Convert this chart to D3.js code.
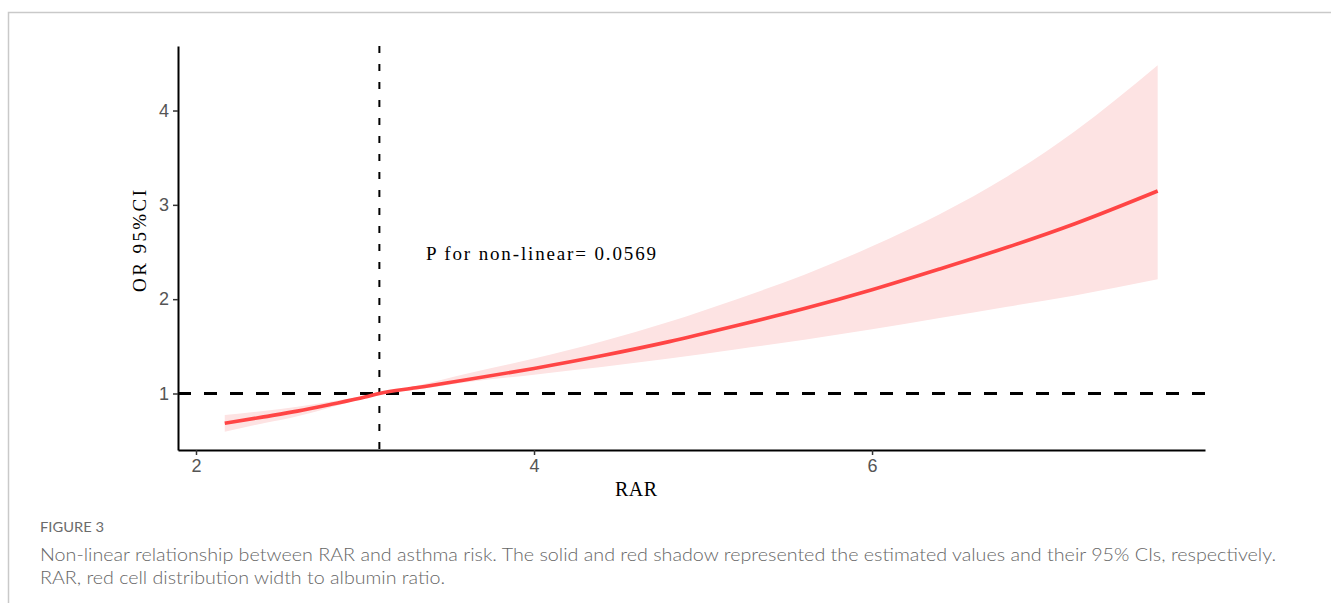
<!DOCTYPE html>
<html>
<head>
<meta charset="utf-8">
<script src="https://cdn.jsdelivr.net/npm/d3@7"></script>
<style>
  html, body { margin: 0; padding: 0; background: #fff; }
  svg { display: block; }
  .tick text { font-size: 18px; font-family: 'Liberation Sans', Arial, sans-serif; fill: #555; }
</style>
</head>
<body>
<svg id="chart" width="1331" height="603"></svg>
<script>
// ---- data ----
const rar      = [2.17, 2.4, 2.6, 2.8, 3.0, 3.085, 3.3, 3.6, 4.0, 4.4, 4.8, 5.2, 5.6, 6.0, 6.4, 6.8, 7.2, 7.69];
const orEst    = [0.684, 0.752, 0.813, 0.885, 0.962, 1.0, 1.06, 1.145, 1.266, 1.40, 1.55, 1.72, 1.90, 2.10, 2.32, 2.55, 2.80, 3.147];
const orUpper  = [0.772, 0.815, 0.86, 0.915, 0.975, 1.003, 1.08, 1.21, 1.37, 1.55, 1.76, 2.00, 2.26, 2.56, 2.90, 3.30, 3.78, 4.48];
const orLower  = [0.595, 0.685, 0.76, 0.855, 0.955, 0.997, 1.04, 1.12, 1.20, 1.28, 1.37, 1.47, 1.57, 1.68, 1.80, 1.92, 2.04, 2.21];
const xTicks   = [2, 4, 6];
const yTicks   = [1, 2, 3, 4];
const refX     = 3.085;   // vertical reference (OR = 1)
const refY     = 1;
const pText    = "P for non-linear= 0.0569";
const xTitle   = "RAR";
const yTitle   = "OR 95%CI";
const figLabel = "FIGURE 3";
const caption  = [
  "Non-linear relationship between RAR and asthma risk. The solid and red shadow represented the estimated values and their 95% CIs, respectively.",
  "RAR, red cell distribution width to albumin ratio."
];

const rows = rar.map((x, i) => ({x, y: orEst[i], lo: orLower[i], hi: orUpper[i]}));

const svg = d3.select("#chart");

// page frame
svg.append("rect").attr("x", 8.5).attr("y", 12.5).attr("width", 1400).attr("height", 700)
  .attr("fill", "none").attr("stroke", "#c9c9c9").attr("stroke-width", 1.5);

const x = d3.scaleLinear().domain([1.8935, 7.970]).range([178, 1205]);
const y = d3.scaleLinear().domain([0.401, 4.684]).range([450, 46]);

// ribbon
svg.append("path").datum(rows)
  .attr("fill", "#fde3e3")
  .attr("d", d3.area().x(d => x(d.x)).y0(d => y(d.lo)).y1(d => y(d.hi)).curve(d3.curveMonotoneX));

// reference lines
svg.append("line")
  .attr("x1", x.range()[0]).attr("x2", x.range()[1])
  .attr("y1", y(refY)).attr("y2", y(refY))
  .attr("stroke", "#000").attr("stroke-width", 3).attr("stroke-dasharray", "13,13");
svg.append("line")
  .attr("x1", x(refX)).attr("x2", x(refX))
  .attr("y1", y.range()[1]).attr("y2", y.range()[0])
  .attr("stroke", "#000").attr("stroke-width", 2).attr("stroke-dasharray", "7,11");

// estimate line
svg.append("path").datum(rows)
  .attr("fill", "none").attr("stroke", "#ff4545").attr("stroke-width", 3.6)
  .attr("d", d3.line().x(d => x(d.x)).y(d => y(d.y)).curve(d3.curveMonotoneX));

// axes
const xAxis = svg.append("g").attr("transform", `translate(0,${y.range()[0]})`)
  .call(d3.axisBottom(x).tickValues(xTicks).tickSize(5).tickSizeOuter(0).tickPadding(4).tickFormat(d3.format("d")));
const yAxis = svg.append("g").attr("transform", `translate(${x.range()[0]},0)`)
  .call(d3.axisLeft(y).tickValues(yTicks).tickSize(5).tickSizeOuter(0).tickPadding(4).tickFormat(d3.format("d")));
[xAxis, yAxis].forEach(g => {
  g.select(".domain").attr("stroke", "#000").attr("stroke-width", 2);
  g.selectAll(".tick line").attr("stroke", "#333").attr("stroke-width", 1.5);
});

// annotation text
svg.append("text").attr("x", 426).attr("y", 259.5)
  .attr("textLength", 230).attr("lengthAdjust", "spacing")
  .style("font-family", "'Liberation Serif', 'Times New Roman', serif").style("font-size", "19px")
  .attr("fill", "#000").text(pText);

// axis titles
svg.append("text").attr("x", 636).attr("y", 496).attr("text-anchor", "middle")
  .attr("textLength", 42).attr("lengthAdjust", "spacing")
  .style("font-family", "'Liberation Serif', 'Times New Roman', serif").style("font-size", "20px")
  .attr("fill", "#000").text(xTitle);
svg.append("text").attr("transform", "translate(146,241) rotate(-90)").attr("text-anchor", "middle")
  .attr("textLength", 102).attr("lengthAdjust", "spacing")
  .style("font-family", "'Liberation Serif', 'Times New Roman', serif").style("font-size", "19px")
  .attr("fill", "#000").text(yTitle);

// caption
svg.append("text").attr("x", 40).attr("y", 532)
  .attr("textLength", 64).attr("lengthAdjust", "spacingAndGlyphs")
  .style("font-family", "Lato, 'Open Sans', sans-serif").style("font-size", "13.5px")
  .attr("fill", "#6b6b6b").text(figLabel);
svg.append("text").attr("x", 40).attr("y", 561)
  .attr("textLength", 1236).attr("lengthAdjust", "spacingAndGlyphs")
  .style("font-family", "Lato, 'Open Sans', sans-serif").style("font-size", "17.5px").style("font-weight", 300)
  .attr("fill", "#666").text(caption[0]);
svg.append("text").attr("x", 40).attr("y", 584)
  .attr("textLength", 405).attr("lengthAdjust", "spacingAndGlyphs")
  .style("font-family", "Lato, 'Open Sans', sans-serif").style("font-size", "17.5px").style("font-weight", 300)
  .attr("fill", "#666").text(caption[1]);
</script>
</body>
</html>
